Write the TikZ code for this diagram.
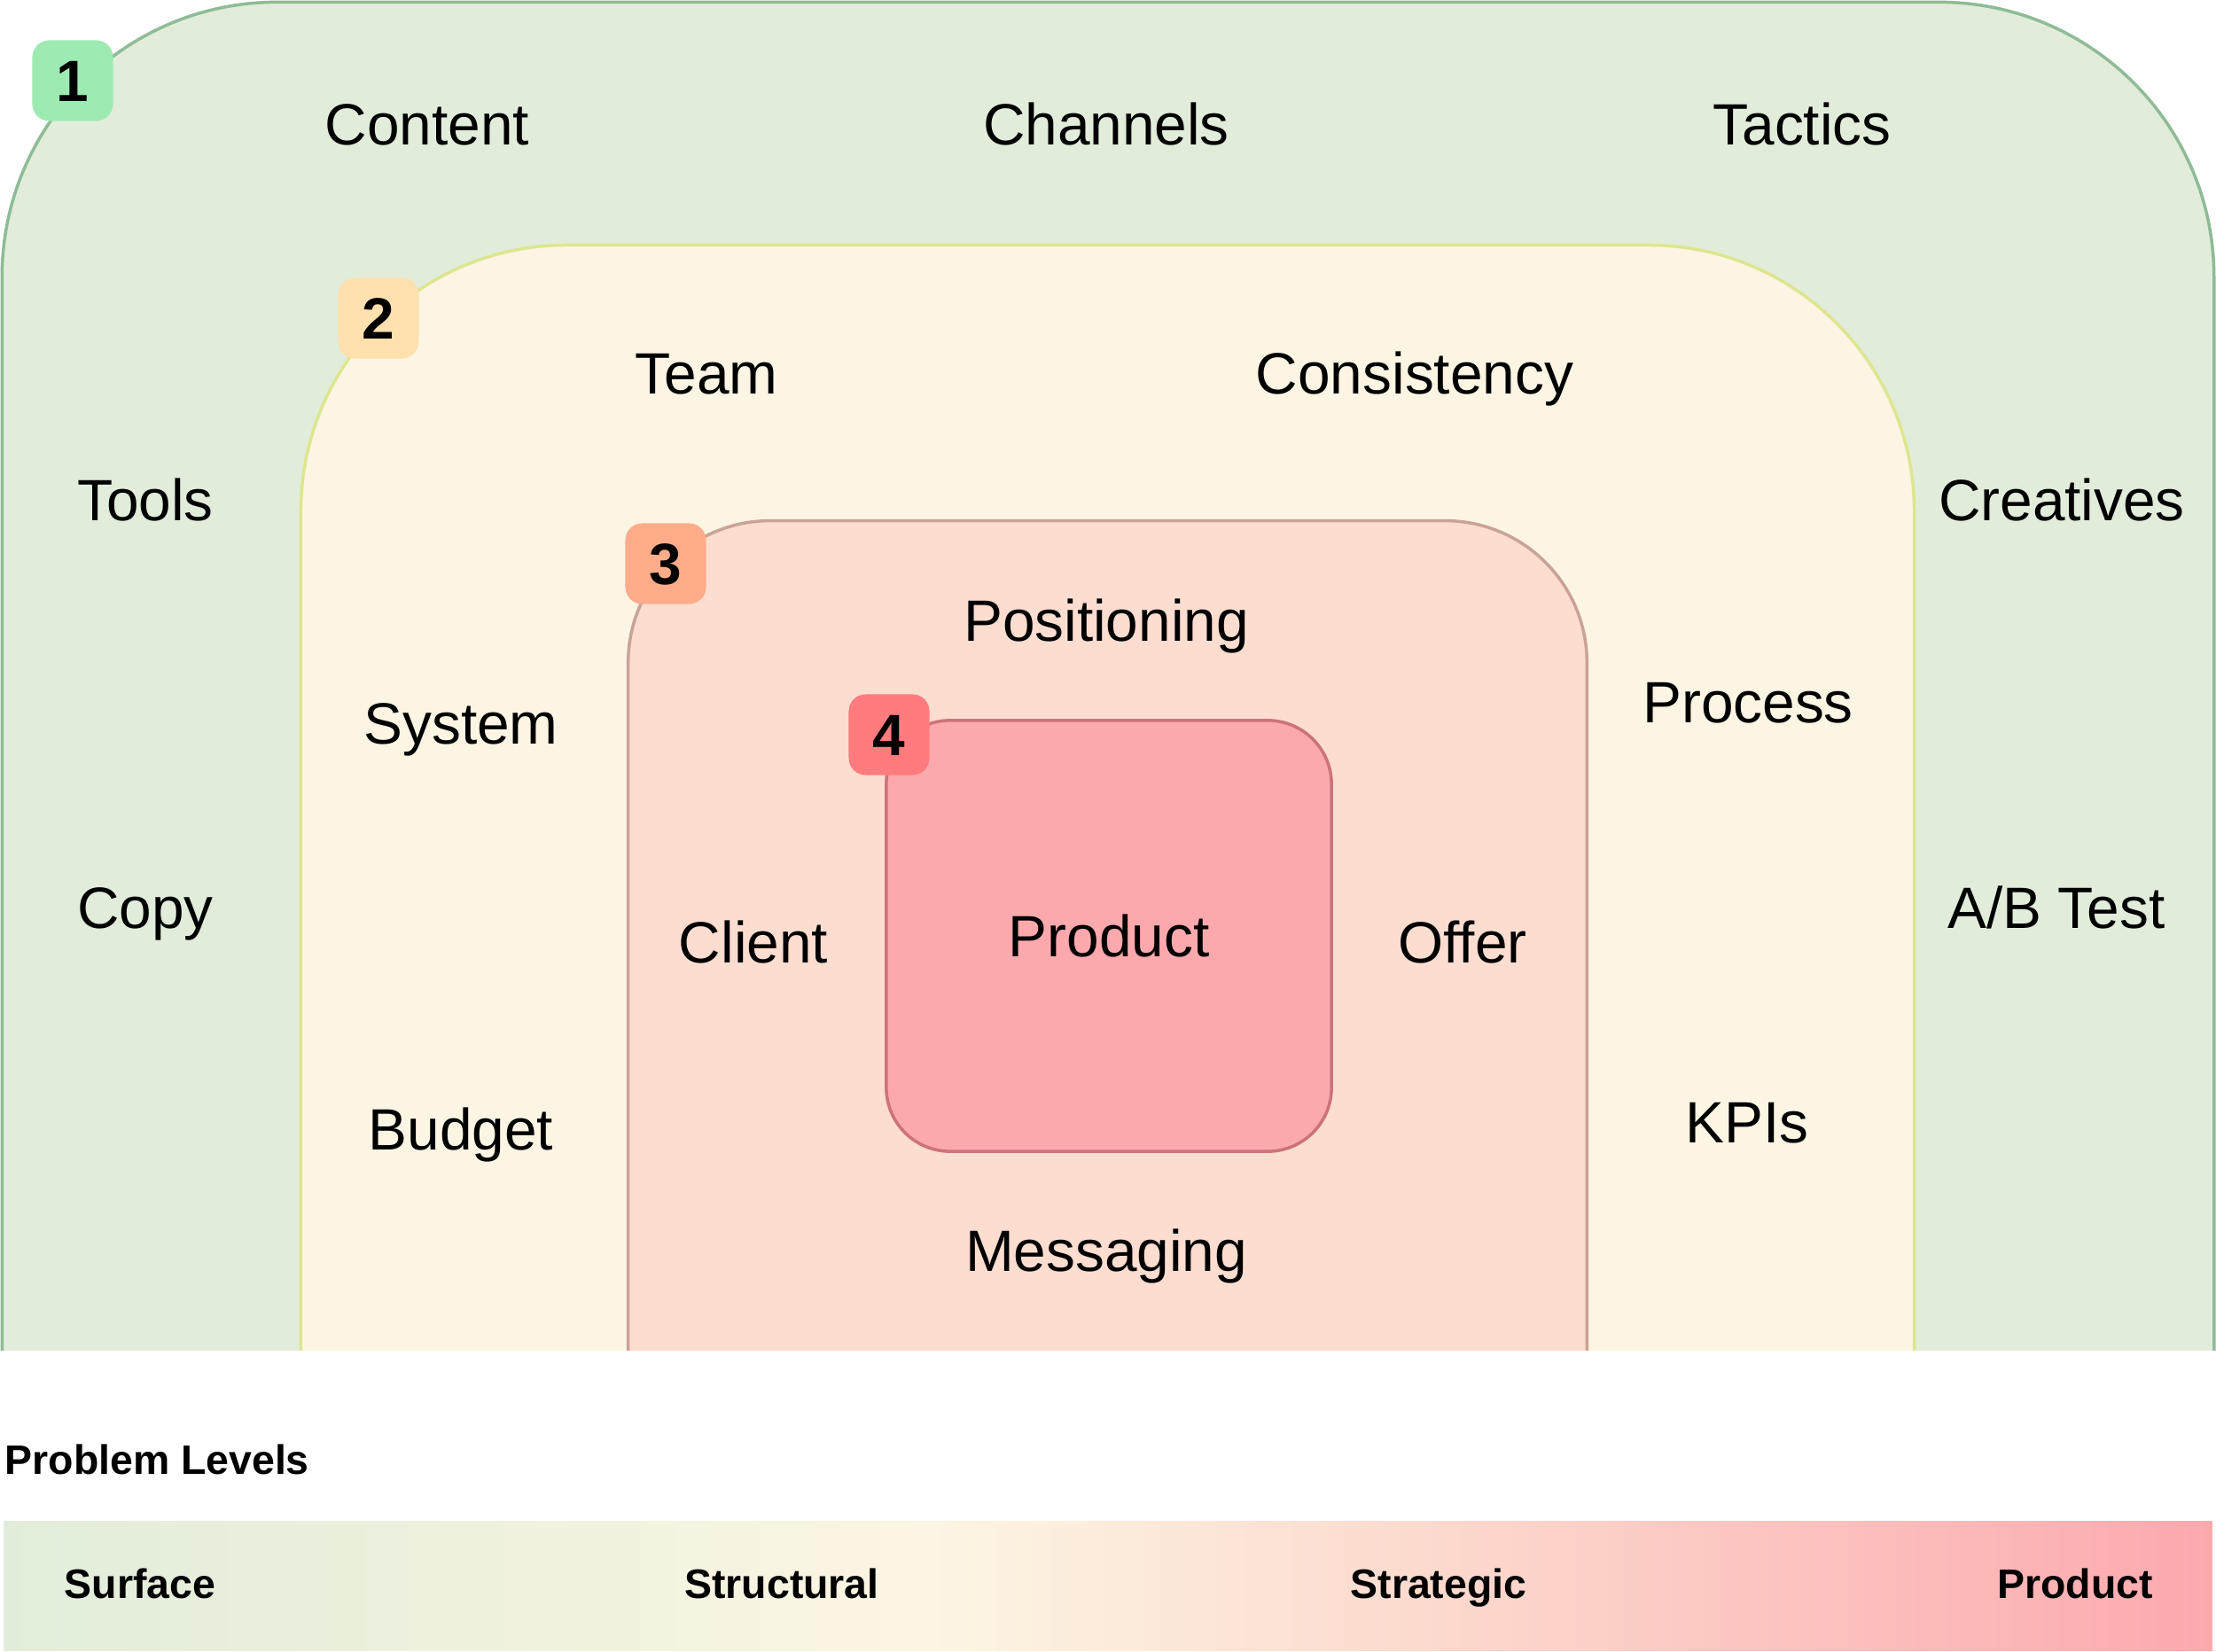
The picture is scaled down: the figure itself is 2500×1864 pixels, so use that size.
\documentclass[tikz,border=0pt]{standalone}
\usepackage{fontspec}
\setmainfont{Liberation Sans}
\definecolor{lvA}{HTML}{E1EDDA}
\definecolor{lvB}{HTML}{FCF5E3}
\definecolor{lvC}{HTML}{FCDDD0}
\definecolor{lvD}{HTML}{FCA9AE}
\definecolor{lnA}{HTML}{8FBB96}
\definecolor{lnB}{HTML}{DDE68F}
\definecolor{lnC}{HTML}{C9A396}
\definecolor{lnD}{HTML}{CC737A}
\definecolor{bgA}{HTML}{9DEBB3}
\definecolor{bgB}{HTML}{FFE0AE}
\definecolor{bgC}{HTML}{FFAC8A}
\definecolor{bgD}{HTML}{FF7B7E}
\pgfdeclarehorizontalshading{levels}{100bp}{color(0bp)=(lvA); color(25bp)=(lvA); color(46bp)=(lvB); color(56bp)=(lvC); color(75bp)=(lvD); color(100bp)=(lvD)}
\begin{document}
\begin{tikzpicture}[x=0.01cm,y=-0.01cm,
  zone/.style={draw, line width=0.035cm, inner sep=0pt, outer sep=0pt},
  lbl/.style={font=\fontsize{18.7pt}{22pt}\selectfont, text height=13.4pt, text depth=0pt, inner sep=0pt},
  badge/.style={minimum size=0.91cm, rounded corners=0.19cm, inner sep=0pt, text height=13.4pt, text depth=0pt, font=\fontsize{18.7pt}{22pt}\bfseries},
  legend/.style={font=\fontsize{13.2pt}{16pt}\bfseries, text height=9.45pt, text depth=0pt, inner sep=0pt}]
\useasboundingbox (0,0) rectangle (2500,1864);
\fill[white] (0,0) rectangle (2500,1864);
\begin{scope}
\clip (0,0) rectangle (2500,1523);
\node[zone, draw=lnA, fill=lvA, rounded corners=3.1cm, minimum width=24.94cm, minimum height=20.97cm] (z1) at (1250,1051.5) {};
\node[zone, draw=lnB, fill=lvB, rounded corners=3.0cm, minimum width=18.19cm, minimum height=18.23cm] (z2) at (1249.5,1188.5) {};
\node[zone, draw=lnC, fill=lvC, rounded corners=1.6cm, minimum width=10.81cm, minimum height=15.12cm] (z3) at (1249.5,1344) {};
\node[zone, draw=lnD, fill=lvD, rounded corners=0.72cm, minimum width=5.02cm, minimum height=4.86cm, font=\fontsize{18.7pt}{22pt}\selectfont] (z4) at (1251,1056) {Product};
\end{scope}
% level 1
\node[lbl] (content) at (482,140) {Content};
\node[lbl] (channels) at (1248,140) {Channels};
\node[lbl] (tactics) at (2033,140) {Tactics};
\node[lbl] (tools) at (164,564) {Tools};
\node[lbl] (creatives) at (2326,564) {Creatives};
\node[lbl] (copy) at (164,1024) {Copy};
\node[lbl] (abtest) at (2320,1024) {A/B Test};
% level 2
\node[lbl] (team) at (797,421) {Team};
\node[lbl] (consistency) at (1596,421) {Consistency};
\node[lbl] (system) at (520,816) {System};
\node[lbl] (process) at (1972,792) {Process};
\node[lbl] (budget) at (520,1274) {Budget};
\node[lbl] (kpis) at (1971,1266) {KPIs};
% level 3
\node[lbl] (positioning) at (1248,700) {Positioning};
\node[lbl] (client) at (850,1063) {Client};
\node[lbl] (offer) at (1650,1063) {Offer};
\node[lbl] (messaging) at (1248,1411) {Messaging};
% badges
\node[badge, fill=bgA] (b1) at (82,91) {1};
\node[badge, fill=bgB] (b2) at (427,359) {2};
\node[badge, fill=bgC] (b3) at (751,636) {3};
\node[badge, fill=bgD] (b4) at (1003,829) {4};
% legend
\node[legend, anchor=west] (ptitle) at (5,1647) {Problem Levels};
\node[shading=levels, minimum width=24.90cm, minimum height=1.45cm, inner sep=0pt, outer sep=0pt] (bar) at (1250,1789.5) {};
\node[legend] (surface) at (158,1787) {Surface};
\node[legend] (structural) at (882,1787) {Structural};
\node[legend] (strategic) at (1623,1787) {Strategic};
\node[legend] (product) at (2341,1787) {Product};
\end{tikzpicture}
\end{document}
